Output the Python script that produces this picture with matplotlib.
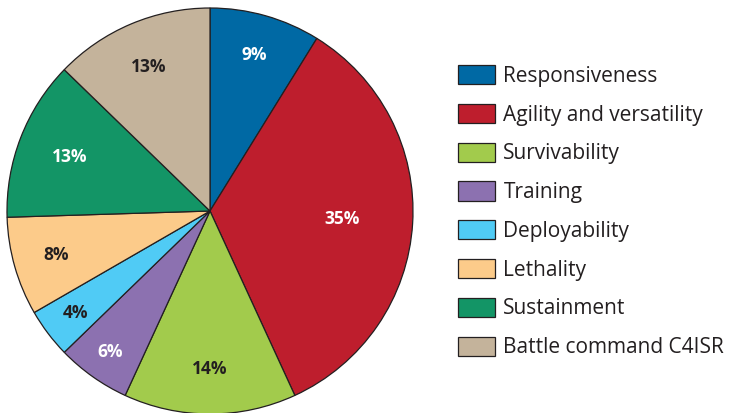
import matplotlib.pyplot as plt
import numpy as np

plt.rcParams['font.family'] = ['Open Sans', 'DejaVu Sans']

# Data
categories = ['Responsiveness', 'Agility and versatility', 'Survivability', 'Training',
              'Deployability', 'Lethality', 'Sustainment', 'Battle command C4ISR']
shares = [9, 35, 14, 6, 4, 8, 13, 13]
colors = ['#0069A4', '#BE1E2D', '#A2CB4C', '#8C71B0', '#50CBF5', '#FCCB8A', '#139566', '#C4B39B']
label_colors = ['white', 'white', '#231F20', 'white', '#231F20', '#231F20', 'white', '#231F20']
label_dist = [0.80, 0.65, 0.78, 0.85, 0.83, 0.79, 0.74, 0.77]

fig = plt.figure(figsize=(7.29, 4.13), dpi=100)
ax = fig.add_axes([7 / 729, -1 / 413, 406 / 729, 406 / 413])

wedges, _ = ax.pie(shares, colors=colors, startangle=90, counterclock=False,
                   wedgeprops=dict(edgecolor='#231F20', linewidth=0.9))
ax.set_xlim(-1, 1)
ax.set_ylim(-1, 1)
ax.set_aspect('equal')

for w, v, c, d in zip(wedges, shares, label_colors, label_dist):
    ang = np.deg2rad((w.theta1 + w.theta2) / 2)
    ax.text(d * np.cos(ang), d * np.sin(ang), f'{v}%', ha='center', va='center',
            color=c, fontsize=12.5, fontweight='bold')

leg = fig.legend(wedges, categories, loc='upper left', bbox_to_anchor=(458 / 729, 1 - 65 / 413),
                 frameon=False, fontsize=15, handlelength=1.78, handleheight=1.04,
                 handletextpad=0.4, labelspacing=0.82, borderaxespad=0, borderpad=0)
for t in leg.get_texts():
    t.set_color('#231F20')

fig.savefig('out.png', dpi=100)
